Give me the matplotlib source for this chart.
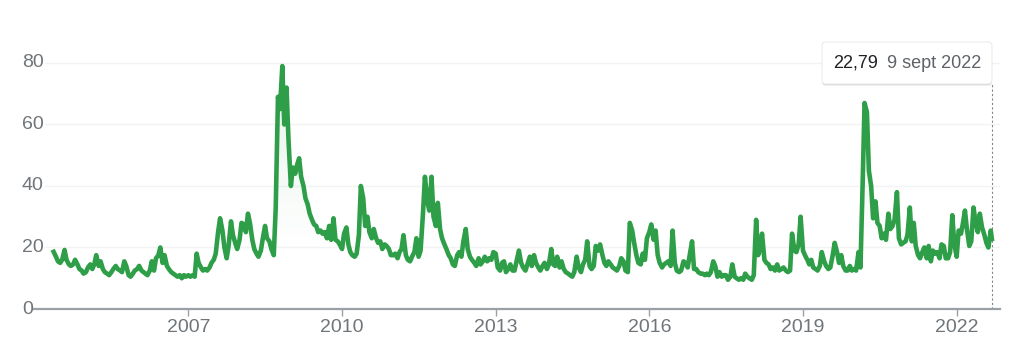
import numpy as np
import pandas as pd
import matplotlib
matplotlib.use("Agg")
import matplotlib.pyplot as plt
import matplotlib.dates as mdates
from matplotlib.patches import FancyBboxPatch
from matplotlib.transforms import blended_transform_factory, IdentityTransform

plt.rcParams["font.family"] = ["Liberation Sans", "DejaVu Sans"]

# semi-monthly readings (1st and 15th of each month)
vix_2004 = [18.6, 17.0, 15.5, 15.0, 16.0, 19.2, 16.0, 14.5, 14.0, 14.5, 16.0, 14.5, 13.0, 12.5, 11.5]
vix_2005 = [12.0, 13.5, 14.5, 13.0, 14.5, 17.5, 14.0, 15.5, 13.0, 12.0, 11.5, 11.0,
            12.0, 13.0, 14.0, 13.0, 12.5, 12.0, 15.5, 14.0, 11.0, 10.5, 11.5, 12.5]
vix_2006 = [13.0, 14.0, 12.5, 12.0, 11.5, 11.0, 12.5, 15.5, 12.5, 16.5, 17.5, 20.0,
            15.0, 17.5, 14.0, 13.0, 12.0, 11.5, 11.0, 10.5, 11.0, 10.0, 11.0, 10.5]
vix_2007 = [11.0, 10.5, 11.0, 10.5, 18.0, 15.0, 13.5, 12.5, 13.0, 12.5, 13.5, 15.0,
            16.0, 18.0, 25.0, 29.5, 25.5, 20.0, 16.5, 20.5, 28.5, 24.0, 21.5, 19.5]
vix_2008 = [22.5, 28.0, 27.5, 25.0, 31.0, 28.0, 22.5, 19.5, 18.0, 17.0, 19.0, 23.0,
            27.0, 23.0, 22.0, 19.5, 17.5, 33.0, 69.0, 65.0, 79.0, 60.0, 72.0, 55.0]
vix_2009 = [40.0, 46.0, 44.0, 47.0, 49.0, 43.0, 40.0, 36.0, 34.0, 31.0, 29.0, 27.5,
            27.0, 25.0, 25.5, 24.5, 25.0, 23.0, 27.0, 22.5, 29.5, 22.5, 22.0, 21.0]
vix_2010 = [19.5, 24.5, 26.5, 21.0, 18.5, 17.5, 17.0, 18.0, 24.0, 40.0, 36.0, 27.0,
            30.0, 25.0, 23.0, 26.0, 23.0, 21.5, 22.0, 19.5, 21.0, 20.5, 19.5, 17.5]
vix_2011 = [17.5, 18.0, 16.5, 18.5, 19.5, 24.0, 17.5, 16.0, 15.5, 17.0, 18.5, 23.0,
            17.0, 19.0, 31.0, 43.0, 35.0, 32.0, 43.0, 30.0, 27.0, 34.5, 26.0, 23.0]
vix_2012 = [21.0, 19.5, 17.5, 16.5, 14.5, 14.0, 17.5, 18.5, 17.0, 22.0, 26.0, 19.5,
            17.0, 16.0, 15.0, 14.0, 16.5, 14.5, 15.5, 17.0, 15.5, 16.5, 16.0, 18.5]
vix_2013 = [18.0, 13.5, 12.5, 15.0, 15.5, 12.0, 13.0, 14.5, 12.5, 12.5, 16.0, 19.0,
            15.0, 13.5, 12.5, 14.5, 17.0, 14.0, 17.5, 15.0, 13.5, 12.5, 14.0, 15.0]
vix_2014 = [13.0, 14.5, 19.5, 14.5, 14.0, 17.0, 13.5, 15.5, 13.0, 12.0, 11.5, 11.0,
            10.5, 12.0, 17.0, 13.5, 12.0, 14.5, 16.0, 22.0, 14.0, 13.0, 14.0, 20.5]
vix_2015 = [19.0, 21.0, 17.5, 15.0, 14.0, 15.5, 14.5, 13.5, 13.0, 12.5, 14.0, 16.5,
            15.5, 12.5, 12.0, 28.0, 25.5, 21.5, 17.5, 15.0, 14.5, 18.0, 16.0, 23.0]
vix_2016 = [25.0, 27.5, 22.5, 25.5, 17.5, 15.0, 13.5, 14.5, 15.0, 15.5, 14.0, 25.5,
            15.0, 12.5, 12.0, 12.5, 15.5, 15.0, 13.5, 17.5, 22.0, 13.0, 13.0, 12.0]
vix_2017 = [11.5, 11.5, 11.0, 11.5, 11.0, 12.0, 15.5, 14.0, 10.5, 12.0, 10.5, 11.0,
            11.0, 9.5, 10.5, 14.5, 10.5, 10.0, 9.5, 10.0, 9.5, 11.5, 10.5, 10.0]
vix_2018 = [9.5, 11.0, 29.0, 17.5, 19.5, 24.5, 16.0, 15.0, 14.5, 13.0, 13.5, 12.5,
            14.5, 12.5, 13.0, 13.5, 12.5, 12.0, 12.5, 24.5, 19.0, 18.5, 21.0, 30.0]
vix_2019 = [19.0, 17.5, 16.0, 14.5, 16.0, 13.5, 13.0, 12.5, 14.0, 18.5, 15.5, 14.0,
            13.0, 13.5, 17.5, 21.5, 18.5, 15.0, 17.5, 14.0, 12.5, 12.5, 14.0, 12.5]
vix_2020 = [13.0, 12.5, 18.5, 13.5, 40.0, 67.0, 64.0, 45.0, 40.0, 29.5, 35.0, 28.0,
            27.0, 23.0, 24.5, 22.5, 31.0, 26.0, 27.0, 29.0, 38.0, 23.0, 21.0, 21.5]
vix_2021 = [22.0, 24.0, 33.0, 22.0, 28.0, 20.5, 17.5, 16.5, 18.5, 20.0, 16.5, 20.5,
            15.5, 19.0, 18.0, 18.5, 16.5, 21.0, 20.5, 16.5, 16.5, 18.5, 30.5, 21.0]
vix_2022 = [17.0, 25.5, 24.5, 28.0, 32.0, 26.0, 20.5, 22.0, 33.0, 28.5, 25.0, 31.0,
            26.5, 24.5, 21.5, 20.0, 25.5]

last_date = "2022-09-09"
last_value = 22.79
last_label = "22,79"
last_date_label = "9 sept 2022"

year_ticks = [2007, 2010, 2013, 2016, 2019, 2022]
y_ticks = [0, 20, 40, 60, 80]

GREEN = "#2e9f48"
GRAY_TXT = "#70757a"

series = {2004: vix_2004, 2005: vix_2005, 2006: vix_2006, 2007: vix_2007,
          2008: vix_2008, 2009: vix_2009, 2010: vix_2010, 2011: vix_2011,
          2012: vix_2012, 2013: vix_2013, 2014: vix_2014, 2015: vix_2015,
          2016: vix_2016, 2017: vix_2017, 2018: vix_2018, 2019: vix_2019,
          2020: vix_2020, 2021: vix_2021, 2022: vix_2022}

parts = []
for year, vals in series.items():
    start = "2004-05-15" if year == 2004 else f"{year}-01-01"
    idx = pd.date_range(start, periods=len(vals), freq="SMS")
    parts.append(pd.Series(vals, index=idx))
parts.append(pd.Series([last_value], index=[pd.Timestamp(last_date)]))
vix = pd.concat(parts)

W, H = 1011, 350
fig = plt.figure(figsize=(W / 100, H / 100), dpi=100)
ax = fig.add_axes([33 / W, 41 / H, 967 / W, 261.4 / H])
ax.set_ylim(0, 85)
ax.set_xlim(mdates.date2num(pd.Timestamp("2003-12-20")),
            mdates.date2num(pd.Timestamp("2022-11-06")))

for s in ax.spines.values():
    s.set_visible(False)

# light grid and baseline
for v in y_ticks[1:]:
    ax.axhline(v, xmin=12 / 967, color="#f1f3f4", lw=1.0, zorder=0)
ax.axhline(0, color="#9aa0a6", lw=1.6, zorder=3, clip_on=False)

# faint gradient under the line, fading out toward the bottom
x = mdates.date2num(vix.index)
poly = ax.fill_between(x, vix.values, 0, color="none", lw=0)
grad = np.zeros((256, 1, 4))
grad[:, 0, :3] = matplotlib.colors.to_rgb(GREEN)
levels = np.linspace(85, 0, 256)
grad[:, 0, 3] = np.clip((levels - 18) / 62, 0, 1) * 0.12
im = ax.imshow(grad, extent=[x.min(), x.max(), 0, 85], aspect="auto",
               origin="upper", zorder=1)
im.set_clip_path(poly.get_paths()[0], ax.transData)

ax.plot(x, vix.values, color=GREEN, lw=3.3, zorder=4)

# hover line
ax.vlines(mdates.date2num(pd.Timestamp(last_date)), 0, 73.2, colors="#80868b",
          linestyles=(0, (2, 2)), lw=0.8, zorder=2)

# axes ticks
ax.set_yticks([])
ax.set_xticks([mdates.date2num(pd.Timestamp(f"{y}-01-01")) for y in year_ticks])
ax.set_xticklabels([str(y) for y in year_ticks])
ax.tick_params(axis="x", length=5, width=1, color="#9aa0a6", labelsize=14,
               labelcolor=GRAY_TXT, pad=2)

trans = blended_transform_factory(fig.transFigure, ax.transData)
for v in y_ticks:
    ax.text(22 / W, v, str(v), transform=trans, ha="left", va="center",
            fontsize=14, color=GRAY_TXT, clip_on=False)

# tooltip
px = IdentityTransform()
for off, a in [(2.0, 0.06), (1.0, 0.10)]:
    sh = FancyBboxPatch((822, H - 84 - off), 170, 42,
                        boxstyle="round,pad=0,rounding_size=4",
                        transform=px, facecolor="black", edgecolor="none", alpha=a)
    fig.add_artist(sh)
box = FancyBboxPatch((822, H - 84), 170, 42, boxstyle="round,pad=0,rounding_size=4",
                     transform=px, facecolor="white", edgecolor="#e6e6e6", lw=0.6)
fig.add_artist(box)
fig.text(833, H - 63, last_label, transform=px, ha="left", va="center",
         fontsize=13, color="#202124")
fig.text(887, H - 63, last_date_label, transform=px, ha="left", va="center",
         fontsize=13, color="#5f6368")

fig.savefig("out.png", dpi=100)
